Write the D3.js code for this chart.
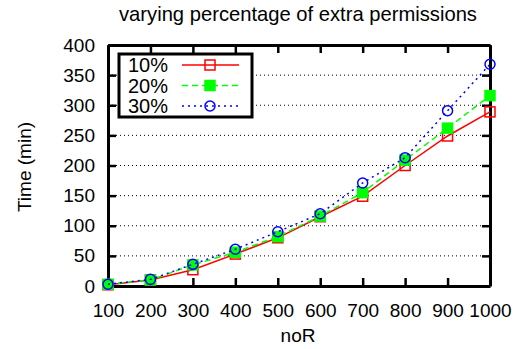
<!DOCTYPE html>
<html>
<head>
<meta charset="utf-8">
<script src="https://cdn.jsdelivr.net/npm/d3@7"></script>
<style>
  body { margin: 0; background: #fff; }
  text { font-family: "Liberation Sans", Arial, sans-serif; fill: #000; }
</style>
</head>
<body>
<svg id="chart" width="521" height="349"></svg>
<script>
// data
const noR = [100, 200, 300, 400, 500, 600, 700, 800, 900, 1000];
const p10 = [2, 10, 27, 53, 80, 115, 149, 200, 249, 289];
const p20 = [3, 10, 35, 56, 82, 116, 155, 209, 262, 316];
const p30 = [3, 11, 36, 61, 90, 120, 171, 213, 291, 368];
const yTicks = [0, 50, 100, 150, 200, 250, 300, 350, 400];
const seriesNames = ['10%', '20%', '30%'];

const series = [
  {name: seriesNames[0], values: p10, color: '#ff0000', dash: null, marker: 'square'},
  {name: seriesNames[1], values: p20, color: '#00ff00', dash: '6,4', marker: 'fsquare'},
  {name: seriesNames[2], values: p30, color: '#0000ff', dash: '2,4', marker: 'circle'}
];

let svg = d3.select('#chart'),
  mLeft = 108, mRight = 490, mTop = 45, mBottom = 286;

let x = d3.scaleLinear().domain([100, 1000]).range([mLeft, mRight]);
let y = d3.scaleLinear().domain([0, 400]).range([mBottom, mTop]);

// dotted grid
svg.append('g').selectAll('line')
  .data(yTicks.filter(d => d > 0 && d < 400))
  .enter().append('line')
  .attr('x1', mLeft).attr('x2', mRight)
  .attr('y1', d => y(d)).attr('y2', d => y(d))
  .attr('stroke', '#000').attr('stroke-width', 1)
  .attr('stroke-dasharray', '1,3');

// axes with inward ticks on all four sides
let fs = 19;
let xb = svg.append('g').attr('transform', `translate(0,${mBottom})`)
  .call(d3.axisBottom(x).tickValues(noR).tickFormat(d3.format('d'))
    .tickSizeInner(-8).tickSizeOuter(0).tickPadding(18));
let xt = svg.append('g').attr('transform', `translate(0,${mTop})`)
  .call(d3.axisTop(x).tickValues(noR).tickSizeInner(-8).tickSizeOuter(0).tickFormat(''));
let yl = svg.append('g').attr('transform', `translate(${mLeft},0)`)
  .call(d3.axisLeft(y).tickValues(yTicks).tickSizeInner(-8).tickSizeOuter(0).tickPadding(13));
let yr = svg.append('g').attr('transform', `translate(${mRight},0)`)
  .call(d3.axisRight(y).tickValues(yTicks).tickSizeInner(-8).tickSizeOuter(0).tickFormat(''));

[xb, xt, yl, yr].forEach(g => {
  g.selectAll('.domain').attr('stroke', '#000').attr('stroke-width', 3);
  g.selectAll('.tick line').attr('stroke', '#000').attr('stroke-width', 2.5);
  g.selectAll('text').attr('font-size', fs).attr('font-family', '"Liberation Sans", Arial, sans-serif').attr('fill', '#000');
});

// lines and markers
let line = d3.line().x((d, i) => x(noR[i])).y(d => y(d));

function drawMarker(g, kind, cx, cy, color) {
  if (kind === 'circle') {
    g.append('circle').attr('cx', cx).attr('cy', cy).attr('r', 5)
      .attr('fill', 'none').attr('stroke', color).attr('stroke-width', 1.5);
  } else {
    g.append('rect').attr('x', cx - 5).attr('y', cy - 5).attr('width', 10).attr('height', 10)
      .attr('fill', kind === 'fsquare' ? color : 'none')
      .attr('stroke', color).attr('stroke-width', 1.5);
  }
}

series.forEach(s => {
  svg.append('path')
    .attr('d', line(s.values))
    .attr('fill', 'none')
    .attr('stroke', s.color)
    .attr('stroke-width', 1.5)
    .attr('stroke-dasharray', s.dash);
  let mg = svg.append('g');
  s.values.forEach((v, i) => drawMarker(mg, s.marker, x(noR[i]), y(v), s.color));
});

// legend
let lg = svg.append('g');
lg.append('rect').attr('x', 119).attr('y', 54).attr('width', 133).attr('height', 63)
  .attr('fill', '#fff').attr('stroke', '#000').attr('stroke-width', 3);
series.forEach((s, i) => {
  let ly = 65 + i * 20.5;
  lg.append('text').attr('x', 168).attr('y', ly + 7).attr('text-anchor', 'end')
    .attr('font-size', 20).text(s.name);
  lg.append('line').attr('x1', 182).attr('x2', 239).attr('y1', ly).attr('y2', ly)
    .attr('stroke', s.color).attr('stroke-width', 1.5).attr('stroke-dasharray', s.dash);
  drawMarker(lg, s.marker, 210, ly, s.color);
});

// titles
svg.append('text').attr('x', 298).attr('y', 21).attr('text-anchor', 'middle')
  .attr('font-size', 20.2).text('varying percentage of extra permissions');
svg.append('text').attr('x', 298).attr('y', 342).attr('text-anchor', 'middle')
  .attr('font-size', fs).text('noR');
svg.append('text').attr('transform', 'translate(31,167) rotate(-90)').attr('text-anchor', 'middle')
  .attr('font-size', fs).text('Time (min)');
</script>
</body>
</html>
